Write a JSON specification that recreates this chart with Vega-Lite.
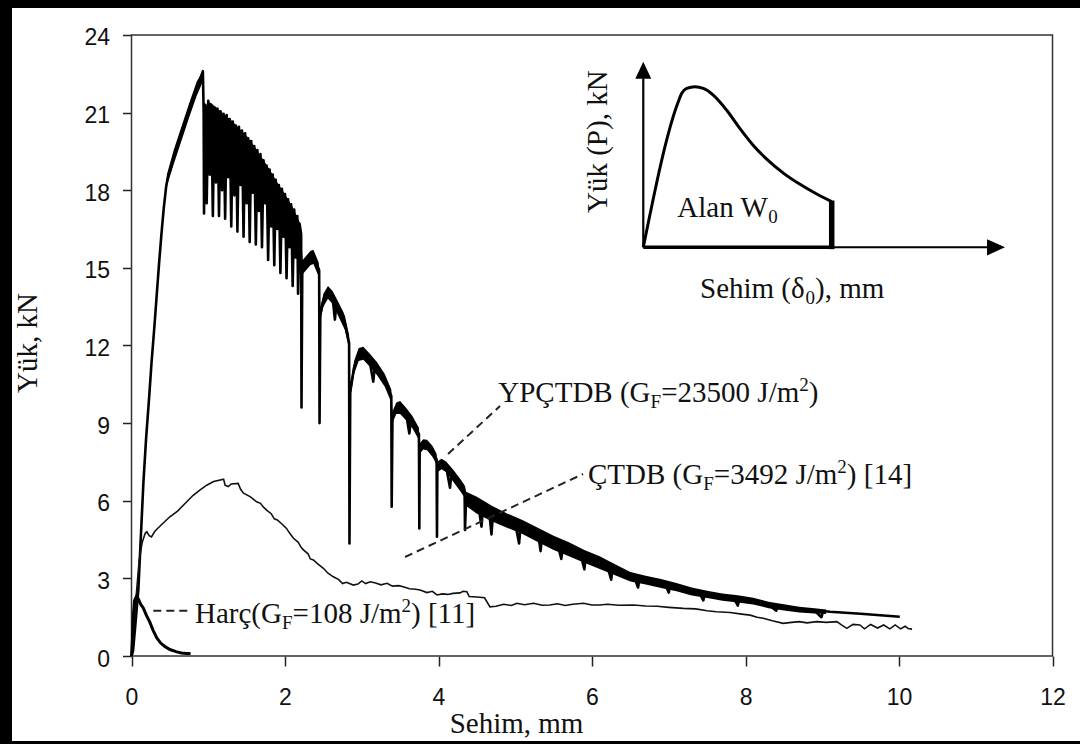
{
"$schema":"https://vega.github.io/schema/vega-lite/v6.json",
"width":1068,"height":733,
"autosize":{"type":"none"},
"padding":{"left":12,"top":8,"right":0,"bottom":3},
"background":"black",
"config":{"view":{"stroke":null,"fill":"white"}},
"datasets":{
"frame":[{"x":0,"y":0,"x2":12,"y2":24}],
"yp":[
{"x":0,"y":0},{"x":0.02,"y":0.2},{"x":0.05,"y":1.2},{"x":0.09,"y":2.6},{"x":0.12,"y":4.5},{"x":0.155,"y":6.7},{"x":0.19,"y":8.4},{"x":0.23,"y":10.0},{"x":0.26,"y":11.3},{"x":0.30,"y":12.8},{"x":0.33,"y":14.0},{"x":0.36,"y":15.2},{"x":0.39,"y":16.3},{"x":0.42,"y":17.3},{"x":0.45,"y":18.1},{"x":0.47,"y":18.45},{"x":0.55,"y":19.25},{"x":0.65,"y":20.15},{"x":0.75,"y":21.05},{"x":0.85,"y":21.9},{"x":0.93,"y":22.6},
{"x":0.94,"y":21.0},{"x":0.945,"y":17.1},{"x":0.96,"y":21.3},{"x":0.98,"y":17.5},{"x":1.00,"y":21.45},{"x":1.02,"y":18.6},{"x":1.04,"y":21.3},{"x":1.06,"y":17.0},{"x":1.08,"y":21.2},{"x":1.10,"y":18.3},{"x":1.12,"y":21.15},{"x":1.14,"y":17.0},{"x":1.16,"y":21.05},{"x":1.18,"y":18.0},{"x":1.20,"y":20.95},{"x":1.22,"y":16.9},{"x":1.24,"y":20.9},{"x":1.26,"y":18.5},{"x":1.28,"y":20.75},{"x":1.30,"y":16.6},{"x":1.32,"y":20.65},{"x":1.34,"y":17.8},{"x":1.36,"y":20.5},{"x":1.38,"y":16.4},{"x":1.40,"y":20.45},{"x":1.42,"y":18.2},{"x":1.44,"y":20.3},{"x":1.46,"y":16.2},{"x":1.48,"y":20.2},{"x":1.50,"y":17.5},{"x":1.52,"y":20.0},{"x":1.54,"y":16.0},{"x":1.56,"y":19.9},{"x":1.58,"y":17.9},{"x":1.60,"y":19.7},{"x":1.62,"y":15.9},{"x":1.64,"y":19.55},{"x":1.66,"y":17.2},{"x":1.68,"y":19.4},{"x":1.70,"y":15.8},{"x":1.72,"y":19.15},{"x":1.74,"y":17.5},{"x":1.76,"y":18.95},{"x":1.78,"y":15.3},{"x":1.80,"y":18.8},{"x":1.82,"y":16.6},{"x":1.84,"y":18.6},{"x":1.86,"y":15.1},{"x":1.88,"y":18.4},{"x":1.90,"y":16.5},{"x":1.92,"y":18.2},{"x":1.94,"y":14.8},{"x":1.96,"y":18.05},{"x":1.98,"y":16.2},{"x":2.00,"y":17.85},{"x":2.02,"y":14.6},{"x":2.04,"y":17.65},{"x":2.06,"y":15.8},{"x":2.08,"y":17.45},{"x":2.10,"y":14.3},{"x":2.12,"y":17.25},{"x":2.14,"y":15.4},{"x":2.16,"y":17.0},{"x":2.17,"y":14.0},{"x":2.19,"y":16.7},{"x":2.21,"y":16.3},
{"x":2.215,"y":9.6},{"x":2.225,"y":14.9},{"x":2.28,"y":15.1},{"x":2.33,"y":15.4},{"x":2.37,"y":15.45},{"x":2.41,"y":15.2},{"x":2.445,"y":14.9},
{"x":2.45,"y":9.0},{"x":2.46,"y":13.2},{"x":2.50,"y":13.75},{"x":2.56,"y":14.05},{"x":2.62,"y":13.85},{"x":2.65,"y":13.0},{"x":2.67,"y":13.6},{"x":2.74,"y":13.3},{"x":2.78,"y":12.85},{"x":2.835,"y":12.1},
{"x":2.84,"y":4.35},{"x":2.85,"y":10.2},{"x":2.90,"y":11.15},{"x":2.96,"y":11.65},{"x":3.02,"y":11.7},{"x":3.10,"y":11.45},{"x":3.15,"y":10.6},{"x":3.17,"y":11.2},{"x":3.25,"y":10.9},{"x":3.30,"y":10.65},{"x":3.385,"y":10.05},
{"x":3.39,"y":5.77},{"x":3.40,"y":9.2},{"x":3.45,"y":9.55},{"x":3.50,"y":9.6},{"x":3.58,"y":9.33},{"x":3.62,"y":8.6},{"x":3.64,"y":9.1},{"x":3.745,"y":8.57},
{"x":3.75,"y":4.93},{"x":3.755,"y":8.0},{"x":3.80,"y":8.18},{"x":3.85,"y":8.15},{"x":3.92,"y":7.9},{"x":3.975,"y":7.6},
{"x":3.98,"y":4.61},{"x":3.985,"y":7.3},{"x":4.04,"y":7.43},{"x":4.10,"y":7.3},{"x":4.15,"y":6.5},{"x":4.17,"y":7.1},{"x":4.25,"y":6.75},{"x":4.34,"y":6.35},
{"x":4.345,"y":4.87},{"x":4.36,"y":6.1},{"x":4.45,"y":5.95},{"x":4.52,"y":5.82},{"x":4.56,"y":5.0},{"x":4.58,"y":5.75},{"x":4.66,"y":5.6},{"x":4.69,"y":4.7},{"x":4.71,"y":5.5},{"x":4.80,"y":5.38},{"x":4.90,"y":5.25},{"x":5.00,"y":5.12},{"x":5.05,"y":4.35},{"x":5.07,"y":5.05},{"x":5.20,"y":4.85},{"x":5.30,"y":4.7},{"x":5.33,"y":4.05},{"x":5.35,"y":4.65},{"x":5.45,"y":4.48},{"x":5.55,"y":4.33},{"x":5.60,"y":3.75},{"x":5.62,"y":4.25},{"x":5.75,"y":4.08},{"x":5.85,"y":3.95},{"x":5.90,"y":3.35},{"x":5.92,"y":3.85},{"x":6.05,"y":3.68},{"x":6.20,"y":3.48},{"x":6.25,"y":2.95},{"x":6.27,"y":3.42},{"x":6.40,"y":3.22},{"x":6.55,"y":3.05},{"x":6.60,"y":2.65},{"x":6.62,"y":3.02},{"x":6.80,"y":2.88},{"x":6.95,"y":2.8},{"x":7.00,"y":2.45},{"x":7.02,"y":2.76},{"x":7.20,"y":2.6},{"x":7.40,"y":2.44},{"x":7.45,"y":2.15},{"x":7.47,"y":2.4},{"x":7.65,"y":2.3},{"x":7.85,"y":2.22},{"x":7.90,"y":1.95},{"x":7.92,"y":2.2},{"x":8.10,"y":2.12},{"x":8.30,"y":1.98},{"x":8.40,"y":1.75},{"x":8.42,"y":1.94},{"x":8.55,"y":1.86},{"x":8.70,"y":1.79},{"x":8.90,"y":1.75},{"x":8.99,"y":1.5},{"x":9.01,"y":1.74},{"x":9.10,"y":1.71},{"x":9.50,"y":1.63},{"x":10.01,"y":1.52}
],
"band":[
{"x":0.46,"y":18.6,"lo":18.15},{"x":0.55,"y":19.55,"lo":19.0},{"x":0.65,"y":20.45,"lo":19.9},{"x":0.75,"y":21.35,"lo":20.8},{"x":0.85,"y":22.2,"lo":21.65},{"x":0.93,"y":22.6,"lo":22.2},
{"x":0.95,"y":21.1,"lo":20.2},{"x":1.00,"y":21.45,"lo":20.4},{"x":1.10,"y":21.2,"lo":20.2},{"x":1.20,"y":20.95,"lo":19.95},{"x":1.30,"y":20.7,"lo":19.7},{"x":1.40,"y":20.4,"lo":19.4},{"x":1.50,"y":20.1,"lo":19.1},{"x":1.60,"y":19.7,"lo":18.7},{"x":1.70,"y":19.25,"lo":18.25},{"x":1.80,"y":18.8,"lo":17.8},{"x":1.90,"y":18.3,"lo":17.3},{"x":2.00,"y":17.85,"lo":16.8},{"x":2.10,"y":17.35,"lo":16.3},{"x":2.20,"y":16.7,"lo":15.7},
{"x":2.23,"y":15.3,"lo":14.75},{"x":2.33,"y":15.65,"lo":15.1},{"x":2.37,"y":15.7,"lo":15.15},{"x":2.44,"y":15.2,"lo":14.65},
{"x":2.46,"y":13.45,"lo":12.95},{"x":2.50,"y":14.0,"lo":13.5},{"x":2.56,"y":14.3,"lo":13.8},{"x":2.62,"y":14.1,"lo":13.6},{"x":2.70,"y":13.65,"lo":13.1},{"x":2.78,"y":13.15,"lo":12.6},{"x":2.835,"y":12.4,"lo":11.85},
{"x":2.85,"y":10.45,"lo":9.95},{"x":2.90,"y":11.4,"lo":10.9},{"x":2.96,"y":11.9,"lo":11.4},{"x":3.02,"y":11.95,"lo":11.45},{"x":3.10,"y":11.7,"lo":11.2},{"x":3.20,"y":11.35,"lo":10.85},{"x":3.30,"y":10.9,"lo":10.4},{"x":3.385,"y":10.3,"lo":9.8},
{"x":3.40,"y":9.45,"lo":9.0},{"x":3.45,"y":9.8,"lo":9.35},{"x":3.50,"y":9.85,"lo":9.35},{"x":3.58,"y":9.58,"lo":9.1},{"x":3.66,"y":9.27,"lo":8.8},{"x":3.745,"y":8.82,"lo":8.35},
{"x":3.755,"y":8.22,"lo":7.8},{"x":3.80,"y":8.38,"lo":7.98},{"x":3.85,"y":8.36,"lo":7.95},{"x":3.92,"y":8.12,"lo":7.7},{"x":3.975,"y":7.82,"lo":7.4},
{"x":3.985,"y":7.52,"lo":7.1},{"x":4.04,"y":7.62,"lo":7.22},{"x":4.10,"y":7.52,"lo":7.1},{"x":4.20,"y":7.17,"lo":6.7},{"x":4.30,"y":6.77,"lo":6.3},{"x":4.345,"y":6.57,"lo":6.1},
{"x":4.36,"y":6.35,"lo":5.8},{"x":4.50,"y":6.15,"lo":5.5},{"x":4.70,"y":5.8,"lo":5.2},{"x":4.90,"y":5.5,"lo":4.95},{"x":5.10,"y":5.25,"lo":4.7},{"x":5.30,"y":4.95,"lo":4.4},{"x":5.50,"y":4.65,"lo":4.1},{"x":5.70,"y":4.4,"lo":3.85},{"x":5.90,"y":4.1,"lo":3.6},{"x":6.10,"y":3.85,"lo":3.36},{"x":6.30,"y":3.55,"lo":3.12},{"x":6.50,"y":3.25,"lo":2.88},{"x":6.70,"y":3.1,"lo":2.76},{"x":6.90,"y":2.98,"lo":2.63},{"x":7.10,"y":2.82,"lo":2.5},{"x":7.30,"y":2.65,"lo":2.34},{"x":7.50,"y":2.52,"lo":2.24},{"x":7.70,"y":2.42,"lo":2.14},{"x":7.90,"y":2.35,"lo":2.07},{"x":8.10,"y":2.25,"lo":1.99},{"x":8.30,"y":2.1,"lo":1.85},{"x":8.50,"y":2.0,"lo":1.76},{"x":8.70,"y":1.9,"lo":1.68},{"x":8.90,"y":1.85,"lo":1.64},{"x":9.05,"y":1.8,"lo":1.62}
],
"ct":[
{"x":0,"y":0},{"x":0.03,"y":1.0},{"x":0.06,"y":2.3},{"x":0.10,"y":3.7},{"x":0.14,"y":4.4},{"x":0.18,"y":4.75},{"x":0.20,"y":4.8},{"x":0.23,"y":4.65},{"x":0.26,"y":4.6},{"x":0.30,"y":4.8},{"x":0.33,"y":4.9},{"x":0.40,"y":5.1},{"x":0.50,"y":5.38},{"x":0.60,"y":5.6},{"x":0.72,"y":5.96},{"x":0.80,"y":6.2},{"x":0.89,"y":6.41},{"x":0.98,"y":6.6},{"x":1.07,"y":6.74},{"x":1.20,"y":6.83},{"x":1.22,"y":6.6},{"x":1.26,"y":6.55},{"x":1.30,"y":6.65},{"x":1.39,"y":6.67},{"x":1.42,"y":6.45},{"x":1.46,"y":6.29},{"x":1.55,"y":6.15},{"x":1.63,"y":5.96},{"x":1.68,"y":5.9},{"x":1.72,"y":5.75},{"x":1.76,"y":5.64},{"x":1.82,"y":5.5},{"x":1.86,"y":5.3},{"x":1.90,"y":5.26},{"x":1.96,"y":5.1},{"x":2.02,"y":4.93},{"x":2.06,"y":4.75},{"x":2.11,"y":4.55},{"x":2.17,"y":4.4},{"x":2.21,"y":4.2},{"x":2.24,"y":4.1},{"x":2.30,"y":3.95},{"x":2.33,"y":3.75},{"x":2.37,"y":3.71},{"x":2.43,"y":3.55},{"x":2.50,"y":3.39},{"x":2.56,"y":3.2},{"x":2.63,"y":3.06},{"x":2.70,"y":2.95},{"x":2.75,"y":2.8},{"x":2.80,"y":2.85},{"x":2.89,"y":2.74},{"x":2.95,"y":2.78},{"x":3.0,"y":2.9},{"x":3.05,"y":2.8},{"x":3.11,"y":2.87},{"x":3.18,"y":2.82},{"x":3.25,"y":2.75},{"x":3.33,"y":2.81},{"x":3.40,"y":2.7},{"x":3.48,"y":2.72},{"x":3.54,"y":2.68},{"x":3.62,"y":2.6},{"x":3.70,"y":2.58},{"x":3.76,"y":2.55},{"x":3.85,"y":2.45},{"x":3.92,"y":2.5},{"x":3.98,"y":2.36},{"x":4.05,"y":2.4},{"x":4.12,"y":2.38},{"x":4.19,"y":2.42},{"x":4.28,"y":2.44},{"x":4.32,"y":2.5},{"x":4.37,"y":2.48},{"x":4.40,"y":2.3},{"x":4.50,"y":2.28},{"x":4.60,"y":2.25},{"x":4.67,"y":1.9},{"x":4.75,"y":1.92},{"x":4.85,"y":2.0},{"x":4.95,"y":1.95},{"x":5.02,"y":2.04},{"x":5.12,"y":1.98},{"x":5.24,"y":2.04},{"x":5.35,"y":1.96},{"x":5.45,"y":1.97},{"x":5.55,"y":2.02},{"x":5.65,"y":1.95},{"x":5.75,"y":2.0},{"x":5.89,"y":2.04},{"x":6.0,"y":1.97},{"x":6.10,"y":1.97},{"x":6.20,"y":2.0},{"x":6.35,"y":1.96},{"x":6.54,"y":1.97},{"x":6.70,"y":1.93},{"x":6.85,"y":1.92},{"x":7.0,"y":1.88},{"x":7.19,"y":1.84},{"x":7.35,"y":1.82},{"x":7.5,"y":1.75},{"x":7.62,"y":1.71},{"x":7.8,"y":1.68},{"x":7.95,"y":1.62},{"x":8.06,"y":1.58},{"x":8.15,"y":1.5},{"x":8.23,"y":1.46},{"x":8.35,"y":1.36},{"x":8.49,"y":1.26},{"x":8.6,"y":1.3},{"x":8.7,"y":1.33},{"x":8.8,"y":1.28},{"x":8.93,"y":1.33},{"x":9.05,"y":1.3},{"x":9.19,"y":1.33},{"x":9.25,"y":1.2},{"x":9.32,"y":1.07},{"x":9.40,"y":1.22},{"x":9.49,"y":1.2},{"x":9.55,"y":1.05},{"x":9.63,"y":1.22},{"x":9.72,"y":1.08},{"x":9.80,"y":1.2},{"x":9.88,"y":1.05},{"x":9.95,"y":1.2},{"x":10.02,"y":1.05},{"x":10.08,"y":1.15},{"x":10.12,"y":1.06},{"x":10.17,"y":1.04}
],
"harc":[
{"x":0,"y":0},{"x":0.01,"y":0.5},{"x":0.025,"y":1.6},{"x":0.04,"y":2.15},{"x":0.065,"y":2.3},{"x":0.09,"y":2.2},{"x":0.12,"y":2.0},{"x":0.155,"y":1.85},{"x":0.19,"y":1.6},{"x":0.24,"y":1.3},{"x":0.28,"y":1.0},{"x":0.33,"y":0.7},{"x":0.38,"y":0.5},{"x":0.43,"y":0.38},{"x":0.50,"y":0.25},{"x":0.58,"y":0.17},{"x":0.65,"y":0.12},{"x":0.72,"y":0.1},{"x":0.77,"y":0.1}
],
"leaders":[
{"x":4.124,"y":7.805,"x2":4.801,"y2":9.66},
{"x":3.564,"y":3.825,"x2":5.883,"y2":7.032},
{"x":0.284,"y":1.75,"x2":0.74,"y2":1.75}
],
"inset":[
{"x":6.668,"y":15.79},{"x":7.124,"y":21.418},{"x":7.169,"y":21.743},{"x":7.234,"y":21.936},{"x":7.342,"y":21.998},{"x":7.45,"y":21.936},{"x":7.58,"y":21.677},{"x":7.755,"y":21.09},{"x":7.928,"y":20.38},{"x":8.102,"y":19.73},{"x":8.276,"y":19.2},{"x":8.493,"y":18.66},{"x":8.71,"y":18.225},{"x":8.928,"y":17.85},{"x":9.123,"y":17.554}
],
"insetlines":[
{"part":"vaxis","x":6.668,"y":15.79,"x2":6.668,"y2":22.32},
{"part":"base","x":6.668,"y":15.79,"x2":9.123,"y2":15.79},
{"part":"axis","x":9.123,"y":15.79,"x2":11.15,"y2":15.79},
{"part":"bar","x":9.123,"y":15.72,"x2":9.123,"y2":17.6}
],
"arrows":[
{"dir":"up","x":6.668,"y":22.635},
{"dir":"right","x":11.264,"y":15.79}
],
"labels":[
{"k":"m","x":4.779,"y":9.826,"t":"YPÇTDB (G"},
{"k":"m","x":6.902,"y":9.826,"t":"=23500 J/m"},
{"k":"m","x":8.824,"y":9.826,"t":")"},
{"k":"m","x":5.948,"y":6.646,"t":"ÇTDB (G"},
{"k":"m","x":7.587,"y":6.646,"t":"=3492 J/m"},
{"k":"m","x":9.32,"y":6.646,"t":") [14]"},
{"k":"m","x":0.827,"y":1.264,"t":"Harç(G"},
{"k":"m","x":2.098,"y":1.264,"t":"=108 J/m"},
{"k":"m","x":3.642,"y":1.264,"t":") [11]"},
{"k":"m","x":7.111,"y":16.975,"t":"Alan W"},
{"k":"m","x":7.407,"y":13.821,"t":"Sehim (δ"},
{"k":"m","x":8.906,"y":13.821,"t":"), mm"},
{"k":"s","x":6.763,"y":9.826,"t":"F"},
{"k":"s","x":7.449,"y":6.646,"t":"F"},
{"k":"s","x":1.96,"y":1.264,"t":"F"},
{"k":"s","x":8.297,"y":16.975,"t":"0"},
{"k":"s","x":8.782,"y":13.821,"t":"0"},
{"k":"p","x":8.7,"y":9.826,"t":"2"},
{"k":"p","x":9.196,"y":6.646,"t":"2"},
{"k":"p","x":3.518,"y":1.264,"t":"2"},
{"k":"r","x":6.196,"y":19.873,"t":"Yük (P), kN"}
]
},
"encoding":{
"x":{"field":"x","type":"quantitative","scale":{"domain":[-1.557,12.358],"nice":false,"zero":false},
"axis":{"values":[0,2,4,6,8,10,12],"offset":-85,"domain":false,"grid":false,"tickSize":10,"tickWidth":1.5,"tickColor":"#222","labelFont":"Liberation Sans","labelFontSize":23,"labelColor":"#111","labelPadding":20,"labelFlush":false,"labelOverlap":false,"title":"Sehim, mm","titleFont":"Liberation Serif","titleFontSize":29,"titleFontWeight":"normal","titleColor":"#111","titleX":504,"titleY":76,"titleAlign":"center","titleBaseline":"alphabetic","titleAngle":0}},
"y":{"field":"y","type":"quantitative","scale":{"domain":[-3.284,25.039],"nice":false,"zero":false},
"axis":{"values":[0,3,6,9,12,15,18,21,24],"offset":-119.5,"domain":false,"grid":false,"tickSize":9,"tickWidth":1.5,"tickColor":"#222","labelFont":"Liberation Sans","labelFontSize":23,"labelColor":"#111","labelPadding":13,"labelOffset":3,"labelOverlap":false,"title":"Yük, kN","titleFont":"Liberation Serif","titleFontSize":29,"titleFontWeight":"normal","titleColor":"#111","titleX":-95,"titleY":334.5,"titleAlign":"center","titleBaseline":"alphabetic","titleAngle":270}}
},
"layer":[
{"data":{"name":"frame"},"mark":{"type":"rect","filled":false,"color":"#333","strokeWidth":1.5},"encoding":{"x2":{"field":"x2"},"y2":{"field":"y2"}}},
{"data":{"name":"band"},"mark":{"type":"area","color":"black"},"encoding":{"y2":{"field":"lo"}}},
{"data":{"name":"yp"},"mark":{"type":"line","color":"black","strokeWidth":2.6,"strokeJoin":"round"}},
{"data":{"name":"ct"},"mark":{"type":"line","color":"#111","strokeWidth":1.6}},
{"data":{"name":"harc"},"mark":{"type":"line","color":"black","strokeWidth":3}},
{"data":{"name":"leaders"},"mark":{"type":"rule","color":"#222","strokeWidth":2,"strokeDash":[8,5]},"encoding":{"x2":{"field":"x2"},"y2":{"field":"y2"}}},
{"data":{"name":"inset"},"mark":{"type":"line","color":"black","strokeWidth":3,"interpolate":"monotone"}},
{"data":{"name":"insetlines"},"transform":[{"filter":"datum.part==='vaxis'"}],"mark":{"type":"rule","color":"black","strokeWidth":2.2},"encoding":{"x2":{"field":"x2"},"y2":{"field":"y2"}}},
{"data":{"name":"insetlines"},"transform":[{"filter":"datum.part==='base'"}],"mark":{"type":"rule","color":"black","strokeWidth":3.5},"encoding":{"x2":{"field":"x2"},"y2":{"field":"y2"}}},
{"data":{"name":"insetlines"},"transform":[{"filter":"datum.part==='axis'"}],"mark":{"type":"rule","color":"black","strokeWidth":2},"encoding":{"x2":{"field":"x2"},"y2":{"field":"y2"}}},
{"data":{"name":"insetlines"},"transform":[{"filter":"datum.part==='bar'"}],"mark":{"type":"rule","color":"black","strokeWidth":5.5},"encoding":{"x2":{"field":"x2"},"y2":{"field":"y2"}}},
{"data":{"name":"arrows"},"transform":[{"filter":"datum.dir==='up'"}],"mark":{"type":"point","filled":true,"color":"black","opacity":1,"size":289,"shape":"M0,-1L-0.94,1L0.94,1Z"}},
{"data":{"name":"arrows"},"transform":[{"filter":"datum.dir==='right'"}],"mark":{"type":"point","filled":true,"color":"black","opacity":1,"size":324,"shape":"M1,0L-1,-0.9L-1,0.9Z"}},
{"data":{"name":"labels"},"transform":[{"filter":"datum.k==='m'"}],"mark":{"type":"text","font":"Liberation Serif","fontSize":29,"align":"left","baseline":"alphabetic","color":"#111"},"encoding":{"text":{"field":"t"}}},
{"data":{"name":"labels"},"transform":[{"filter":"datum.k==='s'"}],"mark":{"type":"text","font":"Liberation Serif","fontSize":19,"align":"left","baseline":"alphabetic","dy":6,"color":"#111"},"encoding":{"text":{"field":"t"}}},
{"data":{"name":"labels"},"transform":[{"filter":"datum.k==='p'"}],"mark":{"type":"text","font":"Liberation Serif","fontSize":19,"align":"left","baseline":"alphabetic","dy":-11,"color":"#111"},"encoding":{"text":{"field":"t"}}},
{"data":{"name":"labels"},"transform":[{"filter":"datum.k==='r'"}],"mark":{"type":"text","font":"Liberation Serif","fontSize":29,"align":"center","baseline":"alphabetic","angle":270,"color":"#111"},"encoding":{"text":{"field":"t"}}}
]
}
